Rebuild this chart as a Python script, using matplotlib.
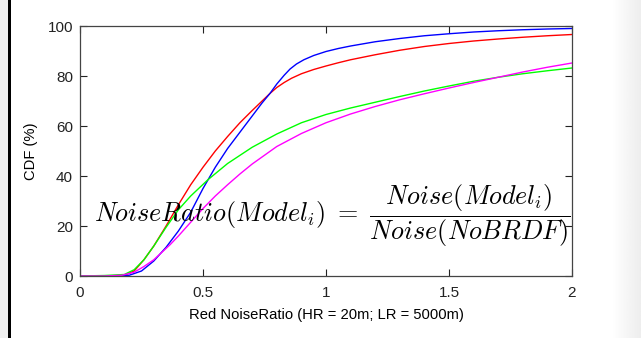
import numpy as np
import matplotlib
matplotlib.use("Agg")
import matplotlib.pyplot as plt

# Werte (x = NoiseRatio, y = CDF in %)
red_x = [0, 0.10, 0.18, 0.22, 0.26, 0.30, 0.35, 0.40, 0.45, 0.50, 0.55, 0.60, 0.65, 0.70,
         0.772, 0.80, 0.83, 0.86, 0.90, 0.95, 1.0, 1.05, 1.1, 1.2, 1.3, 1.4, 1.5, 1.6,
         1.7, 1.8, 1.9, 2.0]
red_y = [0, 0, 0.3, 2, 6.5, 12, 20, 28.5, 36.5, 43.5, 50, 55.8, 61.3, 66.2,
         73, 75.4, 77.4, 79.1, 80.9, 82.6, 84.0, 85.3, 86.5, 88.5, 90.3, 91.8, 93, 94,
         94.8, 95.5, 96.1, 96.6]

blue_x = [0, 0.15, 0.20, 0.25, 0.30, 0.35, 0.40, 0.45, 0.50, 0.55, 0.60, 0.65, 0.70, 0.74,
          0.772, 0.80, 0.83, 0.854, 0.88, 0.91, 0.95, 1.0, 1.05, 1.1, 1.2, 1.3, 1.4, 1.5,
          1.6, 1.7, 1.8, 1.9, 2.0]
blue_y = [0, 0, 0.3, 2, 6, 11.5, 18, 25.5, 35, 43.5, 51, 57.5, 64, 69.2,
          73, 76.8, 80.3, 82.8, 84.8, 86.5, 88.2, 89.8, 91, 92, 93.7, 95, 96.1, 96.9,
          97.6, 98.1, 98.5, 98.8, 99]

green_x = [0, 0.10, 0.18, 0.22, 0.26, 0.30, 0.35, 0.40, 0.45, 0.52, 0.60, 0.70, 0.80, 0.90,
           1.0, 1.1, 1.2, 1.3, 1.4, 1.5, 1.6, 1.7, 1.8, 1.9, 2.0]
green_y = [0, 0.2, 0.6, 2.5, 6.5, 12, 19.5, 26.5, 32, 38.5, 45, 51.5, 56.8, 61.3,
           64.6, 67.2, 69.5, 71.8, 74, 76, 77.9, 79.5, 80.9, 82.1, 83.2]

magenta_x = [0, 0.10, 0.17, 0.22, 0.26, 0.30, 0.366, 0.40, 0.45, 0.50, 0.55, 0.60, 0.65, 0.70,
             0.80, 0.90, 1.0, 1.1, 1.2, 1.3, 1.4, 1.5, 1.6, 1.7, 1.8, 1.9, 2.0]
magenta_y = [0, 0, 0.3, 1.5, 3.8, 6.5, 12.5, 16, 21.5, 27, 32, 36.5, 40.8, 44.8,
             51.8, 57, 61.3, 64.8, 67.8, 70.5, 72.9, 75.2, 77.4, 79.5, 81.6, 83.5, 85.2]

x_ticks = [0, 0.5, 1, 1.5, 2]
x_tick_labels = ["0", "0.5", "1", "1.5", "2"]
y_ticks = [0, 20, 40, 60, 80, 100]

plt.rcParams["font.family"] = ["Liberation Sans", "DejaVu Sans"]
plt.rcParams["mathtext.fontset"] = "cm"

fig = plt.figure(figsize=(6.41, 3.38), dpi=100)

# Rahmen links (grauer Streifen + schwarze Linie) und grauer Verlauf rechts
fig.add_artist(plt.Rectangle((0, 0), 8 / 641, 1, transform=fig.transFigure,
                             color="#efefef", lw=0))
fig.add_artist(plt.Rectangle((8 / 641, 0), 3 / 641, 1, transform=fig.transFigure,
                             color="black", lw=0))
grad_ax = fig.add_axes([612 / 641, 0, 29 / 641, 1])
grad_ax.imshow(np.linspace(1.0, 0.93, 64)[None, :], cmap="gray", vmin=0, vmax=1,
               aspect="auto", extent=[0, 1, 0, 1])
grad_ax.axis("off")

ax = fig.add_axes([80 / 641, 62 / 338, 492 / 641, 250 / 338])

ax.plot(red_x, red_y, color="#ff0000", lw=1)
ax.plot(blue_x, blue_y, color="#0000ff", lw=1)
ax.plot(green_x, green_y, color="#00ff00", lw=1)
ax.plot(magenta_x, magenta_y, color="#ff00ff", lw=1)

ax.set_xlim(0, 2)
ax.set_ylim(0, 100)
ax.set_xticks(x_ticks)
ax.set_xticklabels(x_tick_labels)
ax.set_yticks(y_ticks)
ax.tick_params(direction="in", top=True, right=True, length=5, width=0.8,
               labelsize=11, colors="#222222")
ax.tick_params(axis="x", pad=7)
ax.tick_params(axis="y", pad=5)
for s in ax.spines.values():
    s.set_color("#444444")
    s.set_linewidth(0.9)

ax.set_xlabel("Red NoiseRatio (HR = 20m; LR = 5000m)", fontsize=10.6, labelpad=6)
ax.set_ylabel("CDF (%)", fontsize=10.6, labelpad=7)

ax.text(1.024, 24.2,
        r"$NoiseRatio(Model_i)\ =\ \dfrac{Noise(Model_i)}{Noise(NoBRDF)}$",
        fontsize=18.8, ha="center", va="center")

fig.savefig("out.png", dpi=100)
